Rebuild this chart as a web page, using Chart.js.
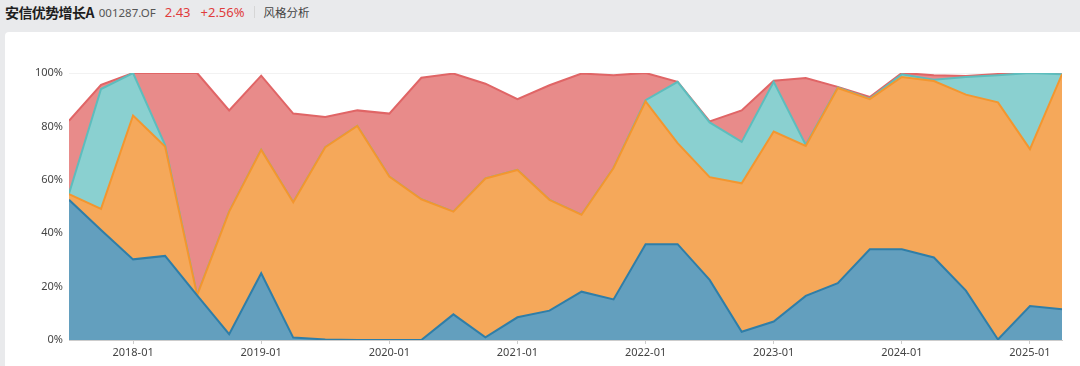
<!DOCTYPE html>
<html>
<head>
<meta charset="utf-8">
<script src="https://cdn.jsdelivr.net/npm/chart.js@4/dist/chart.umd.min.js"></script>
<style>
  html, body { margin: 0; padding: 0; }
  body { width: 1080px; height: 366px; background: #e9eaec; font-family: "Noto Sans", "Noto Sans CJK SC", sans-serif; overflow: hidden; position: relative; }
  #header { position: absolute; left: 5px; top: 2px; height: 20px; display: flex; align-items: center; white-space: nowrap; }
  .name { font-size: 14px; font-weight: bold; color: #1e1e1e; font-family: "Noto Sans CJK SC", sans-serif; letter-spacing: -0.6px; }
  .code { font-size: 11.5px; color: #555; margin-left: 5px; }
  .price { font-size: 13px; color: #e03c3c; margin-left: 9px; }
  .chg { font-size: 13px; color: #e03c3c; margin-left: 10px; }
  .sep { width: 1px; height: 12px; background: #d6d6d6; margin-left: 9px; }
  .tab { font-size: 11.5px; color: #444; margin-left: 9px; font-family: "Noto Sans CJK SC", sans-serif; }
  #card { position: absolute; left: 5px; top: 32px; right: 0; bottom: 0; background: #fff; border-radius: 4px 0 0 0; }
  #chart { position: absolute; left: 0; top: 32px; }
</style>
</head>
<body>
<div id="header"><span class="name">安信优势增长A</span><span class="code">001287.OF</span><span class="price">2.43</span><span class="chg">+2.56%</span><span class="sep"></span><span class="tab">风格分析</span></div>
<div id="card"></div>
<canvas id="chart" width="1080" height="334"></canvas>
<script>
// quarter-end report dates
const dates = [
  "2017-06-30","2017-09-30","2017-12-31","2018-03-31","2018-06-30","2018-09-30","2018-12-31","2019-03-31",
  "2019-06-30","2019-09-30","2019-12-31","2020-03-31","2020-06-30","2020-09-30","2020-12-31","2021-03-31",
  "2021-06-30","2021-09-30","2021-12-31","2022-03-31","2022-06-30","2022-09-30","2022-12-31","2023-03-31",
  "2023-06-30","2023-09-30","2023-12-31","2024-03-31","2024-06-30","2024-09-30","2024-12-31","2025-03-31"
];
const tickLabels = ["2018-01","2019-01","2020-01","2021-01","2022-01","2023-01","2024-01","2025-01"];

// style weights, % (bottom to top)
const blueVals = [52.5,41.2,30.2,31.5,16.7,2.2,25.0,0.9, 0.2,0,0,0,9.6,1.0,8.5,11.0,
  18.1,15.2,35.9,35.9,22.5,3.1,6.9,16.5, 21.3,34.0,34.0,30.9,18.5,0.2,12.7,11.5];
const orangeVals = [2.1,7.9,53.9,41.0,0.1,45.9,46.2,50.7, 72.0,80.2,61.2,52.7,38.5,59.5,55.2,41.5,
  28.8,49.2,53.5,37.8,38.5,55.6,71.2,56.2, 73.1,56.2,64.5,66.1,73.4,88.8,58.8,88.0];
const tealVals = [0.2,44.9,15.9,0.5,0,0,0,0, 0,0,0,0,0,0,0,0,
  0,0,0.4,23.0,20.5,15.5,18.6,0.4, 0.2,0.2,1.0,0.5,6.6,10.2,28.5,0];
const redVals = [27.3,1.6,0,27.0,83.2,37.9,27.8,33.2, 11.3,5.8,23.6,45.5,51.7,35.5,26.5,42.9,
  52.9,34.8,10.2,0,0.4,11.8,0.4,25.0, 0.2,0.6,0.5,1.7,0.4,0.4,0,0];

// quarter end -> fractional year (2017-12-31 ~ 2018.0)
function toYear(d) {
  const [y, m] = d.split("-").map(Number);
  return y + m / 12;
}
const xs = dates.map(toYear);
const pts = vals => vals.map((v, i) => ({ x: xs[i], y: v }));

const series = [
  { label: "blue", data: blueVals, fill: "origin", bg: "#639fbe", line: "#2f7ea8" },
  { label: "orange", data: orangeVals, fill: "-1", bg: "#f5a85a", line: "#f3962f" },
  { label: "teal", data: tealVals, fill: "-1", bg: "#8ad0d0", line: "#5dbdbd" },
  { label: "red", data: redVals, fill: "-1", bg: "#e88b8a", line: "#e06566" }
];

new Chart(document.getElementById("chart"), {
  type: "line",
  data: {
    datasets: series.map(s => ({
      label: s.label,
      data: pts(s.data),
      fill: s.fill,
      backgroundColor: s.bg,
      borderColor: s.line,
      borderWidth: 2,
      pointRadius: 0,
      tension: 0
    }))
  },
  options: {
    responsive: false,
    animation: false,
    layout: { padding: { left: 0, right: 18, top: 41, bottom: 0 } },
    plugins: { legend: { display: false }, tooltip: { enabled: false } },
    scales: {
      x: {
        type: "linear",
        min: xs[0],
        max: xs[xs.length - 1],
        afterBuildTicks(scale) {
          scale.ticks = tickLabels.map(t => ({ value: Number(t.slice(0, 4)) }));
        },
        afterFit(scale) { scale.height = 26; },
        ticks: {
          autoSkip: false,
          maxRotation: 0,
          color: "#444",
          font: { size: 11, family: "Noto Sans" },
          padding: 2,
          callback: v => tickLabels[v - 2018]
        },
        grid: { display: true, drawOnChartArea: false, tickLength: 4, color: "#ccc" },
        border: { color: "#ccc" }
      },
      y: {
        stacked: true,
        min: 0,
        max: 100,
        afterFit(scale) { scale.width = 69; },
        ticks: {
          stepSize: 20,
          color: "#444",
          font: { size: 11, family: "Noto Sans" },
          padding: 6,
          callback: v => v + "%"
        },
        grid: { color: "#f2f2f2", drawTicks: false },
        border: { display: false }
      }
    }
  }
});
</script>
</body>
</html>
